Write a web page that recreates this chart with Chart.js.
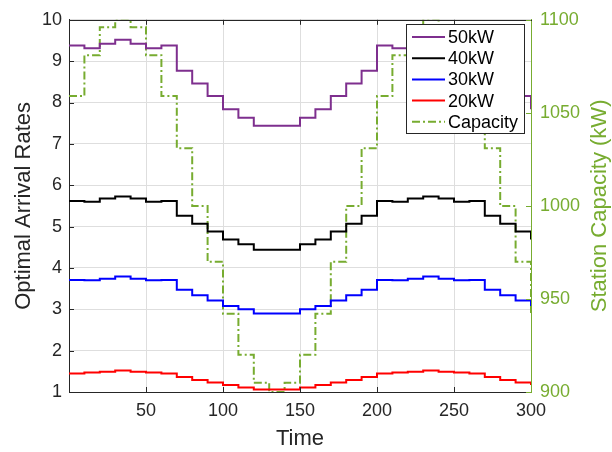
<!DOCTYPE html>
<html>
<head>
<meta charset="utf-8">
<script src="https://cdn.jsdelivr.net/npm/chart.js@4.4.1/dist/chart.umd.min.js"></script>
<style>
  html, body { margin: 0; padding: 0; background: #ffffff; }
  canvas { display: block; }
</style>
</head>
<body>
<canvas id="chart" width="612" height="452"></canvas>
<script>
// Step start times (each rate holds for 10 time units)
const timeSteps = [0, 10, 20, 30, 40, 50, 60, 70, 80, 90, 100, 110, 120, 130, 140, 150,
                   160, 170, 180, 190, 200, 210, 220, 230, 240, 250, 260, 270, 280, 290, 300];

// Optimal arrival rates per charger power level
const rate50kW = [9.38, 9.31, 9.42, 9.52, 9.42, 9.31, 9.38, 8.77, 8.46, 8.16, 7.84, 7.63, 7.44, 7.44, 7.44, 7.63,
                  7.84, 8.16, 8.46, 8.77, 9.38, 9.31, 9.42, 9.52, 9.42, 9.31, 9.38, 8.77, 8.46, 8.16, 7.84];
const rate40kW = [5.62, 5.60, 5.68, 5.73, 5.68, 5.60, 5.62, 5.26, 5.07, 4.88, 4.69, 4.57, 4.44, 4.44, 4.44, 4.57,
                  4.69, 4.88, 5.07, 5.26, 5.62, 5.60, 5.68, 5.73, 5.68, 5.60, 5.62, 5.26, 5.07, 4.88, 4.69];
const rate30kW = [3.71, 3.70, 3.74, 3.79, 3.74, 3.70, 3.71, 3.47, 3.34, 3.21, 3.08, 3.00, 2.90, 2.90, 2.90, 3.00,
                  3.08, 3.21, 3.34, 3.47, 3.71, 3.70, 3.74, 3.79, 3.74, 3.70, 3.71, 3.47, 3.34, 3.21, 3.08];
const rate20kW = [1.45, 1.47, 1.49, 1.52, 1.49, 1.47, 1.45, 1.36, 1.29, 1.23, 1.17, 1.11, 1.06, 1.06, 1.06, 1.11,
                  1.17, 1.23, 1.29, 1.36, 1.45, 1.47, 1.49, 1.52, 1.49, 1.47, 1.45, 1.36, 1.29, 1.23, 1.17];

// Station capacity (kW), right axis
const stationCapacity = [1059, 1081, 1096, 1100, 1096, 1081, 1059, 1031, 1000, 970, 942, 920, 905, 900, 905, 920,
                         942, 970, 1000, 1031, 1059, 1081, 1096, 1100, 1096, 1081, 1059, 1031, 1000, 970, 942];

const seriesNames = ['50kW', '40kW', '30kW', '20kW', 'Capacity'];

// Axis ticks
const xTicks = [50, 100, 150, 200, 250, 300];
const leftTicks = [1, 2, 3, 4, 5, 6, 7, 8, 9, 10];
const rightTicks = [900, 950, 1000, 1050, 1100];

const AXIS_COLOR = '#262626';
const GRID_COLOR = '#dedede';
const GREEN = '#77AC30';
const FONT = '"Liberation Sans", Arial, Helvetica, sans-serif';

Chart.defaults.font.family = FONT;

const toPoints = vals => timeSteps.map((t, i) => ({ x: t, y: vals[i] }));
const plainLabel = v => String(v);

function lineSet(label, vals, color, axis, dash) {
  return {
    label: label,
    data: toPoints(vals),
    borderColor: color,
    backgroundColor: color,
    borderWidth: 2,
    borderDash: dash || [],
    stepped: 'before',
    pointRadius: 0,
    fill: false,
    yAxisID: axis
  };
}

// Draws the frame top edge, inward tick marks, right axis title and the legend box
const frameDecor = {
  id: 'frameDecor',
  afterDraw(chart) {
    const { ctx, chartArea: a, scales } = chart;
    const al = v => Math.round(v) + 0.5;
    ctx.save();
    ctx.lineWidth = 1;

    ctx.strokeStyle = AXIS_COLOR;
    ctx.beginPath();
    ctx.moveTo(a.left, al(a.top));
    ctx.lineTo(a.right + 1, al(a.top));
    xTicks.forEach(v => {
      const p = al(scales.x.getPixelForValue(v));
      if (p > a.left + 1 && p < a.right - 1) {
        ctx.moveTo(p, a.bottom);
        ctx.lineTo(p, a.bottom - 5);
        ctx.moveTo(p, a.top);
        ctx.lineTo(p, a.top + 5);
      }
    });
    leftTicks.forEach(v => {
      const p = al(scales.y.getPixelForValue(v));
      ctx.moveTo(a.left, p);
      ctx.lineTo(a.left + 5, p);
    });
    ctx.stroke();

    ctx.strokeStyle = GREEN;
    ctx.beginPath();
    rightTicks.forEach(v => {
      const p = al(scales.y2.getPixelForValue(v));
      ctx.moveTo(a.right, p);
      ctx.lineTo(a.right - 5, p);
    });
    ctx.stroke();

    // right axis title, reading bottom to top
    ctx.save();
    ctx.translate(600, (a.top + a.bottom) / 2);
    ctx.rotate(-Math.PI / 2);
    ctx.fillStyle = GREEN;
    ctx.font = '22px ' + FONT;
    ctx.textAlign = 'center';
    ctx.textBaseline = 'middle';
    ctx.fillText('Station Capacity (kW)', 0, 0);
    ctx.restore();

    // legend
    const bx = 406.5, by = 24.5, bw = 118, bh = 109;
    ctx.fillStyle = '#ffffff';
    ctx.fillRect(bx, by, bw, bh);
    ctx.strokeStyle = AXIS_COLOR;
    ctx.setLineDash([]);
    ctx.strokeRect(bx, by, bw, bh);
    ctx.font = '18px ' + FONT;
    ctx.textAlign = 'left';
    ctx.textBaseline = 'middle';
    chart.data.datasets.forEach((ds, i) => {
      const y = 37 + i * 21.2;
      ctx.strokeStyle = ds.borderColor;
      ctx.lineWidth = 2;
      ctx.setLineDash(ds.borderDash || []);
      ctx.beginPath();
      ctx.moveTo(412, y);
      ctx.lineTo(445, y);
      ctx.stroke();
      ctx.setLineDash([]);
      ctx.fillStyle = '#000000';
      ctx.fillText(ds.label, 448, y + 1);
    });
    ctx.restore();
  }
};

new Chart(document.getElementById('chart'), {
  type: 'line',
  data: {
    datasets: [
      lineSet(seriesNames[0], rate50kW, '#7E2F8E', 'y'),
      lineSet(seriesNames[1], rate40kW, '#000000', 'y'),
      lineSet(seriesNames[2], rate30kW, '#0000FF', 'y'),
      lineSet(seriesNames[3], rate20kW, '#FF0000', 'y'),
      lineSet(seriesNames[4], stationCapacity, GREEN, 'y2', [8, 3, 2, 3])
    ]
  },
  options: {
    responsive: false,
    animation: false,
    layout: { padding: { top: 15, left: 0, right: 0, bottom: 0 }, autoPadding: false },
    plugins: { legend: { display: false }, tooltip: { enabled: false } },
    scales: {
      x: {
        type: 'linear',
        min: 0,
        max: 300,
        afterBuildTicks: s => { s.ticks = xTicks.map(v => ({ value: v })); },
        afterFit: s => { s.height = 60; },
        ticks: { color: AXIS_COLOR, font: { size: 18 }, padding: 8, maxRotation: 0, autoSkip: false, callback: plainLabel },
        grid: { color: GRID_COLOR, drawTicks: false },
        border: { color: AXIS_COLOR, width: 1 },
        title: { display: true, text: 'Time', color: AXIS_COLOR, font: { size: 22 }, padding: { top: 2.5, bottom: 0 } }
      },
      y: {
        position: 'left',
        min: 1,
        max: 10,
        afterBuildTicks: s => { s.ticks = leftTicks.map(v => ({ value: v })); },
        afterFit: s => { s.width = 69; },
        ticks: { color: AXIS_COLOR, font: { size: 18 }, padding: 7, autoSkip: false, callback: plainLabel },
        grid: { color: GRID_COLOR, drawTicks: false },
        border: { color: AXIS_COLOR, width: 1 },
        title: { display: true, text: 'Optimal Arrival Rates', color: AXIS_COLOR, font: { size: 22 }, padding: { top: 11, bottom: 0 } }
      },
      y2: {
        position: 'right',
        min: 900,
        max: 1100,
        afterBuildTicks: s => { s.ticks = rightTicks.map(v => ({ value: v })); },
        afterFit: s => { s.width = 81; },
        ticks: { color: GREEN, font: { size: 18 }, padding: 9, autoSkip: false, callback: plainLabel },
        grid: { display: false, drawTicks: false },
        border: { color: GREEN, width: 1 }
      }
    }
  },
  plugins: [frameDecor]
});
</script>
</body>
</html>
